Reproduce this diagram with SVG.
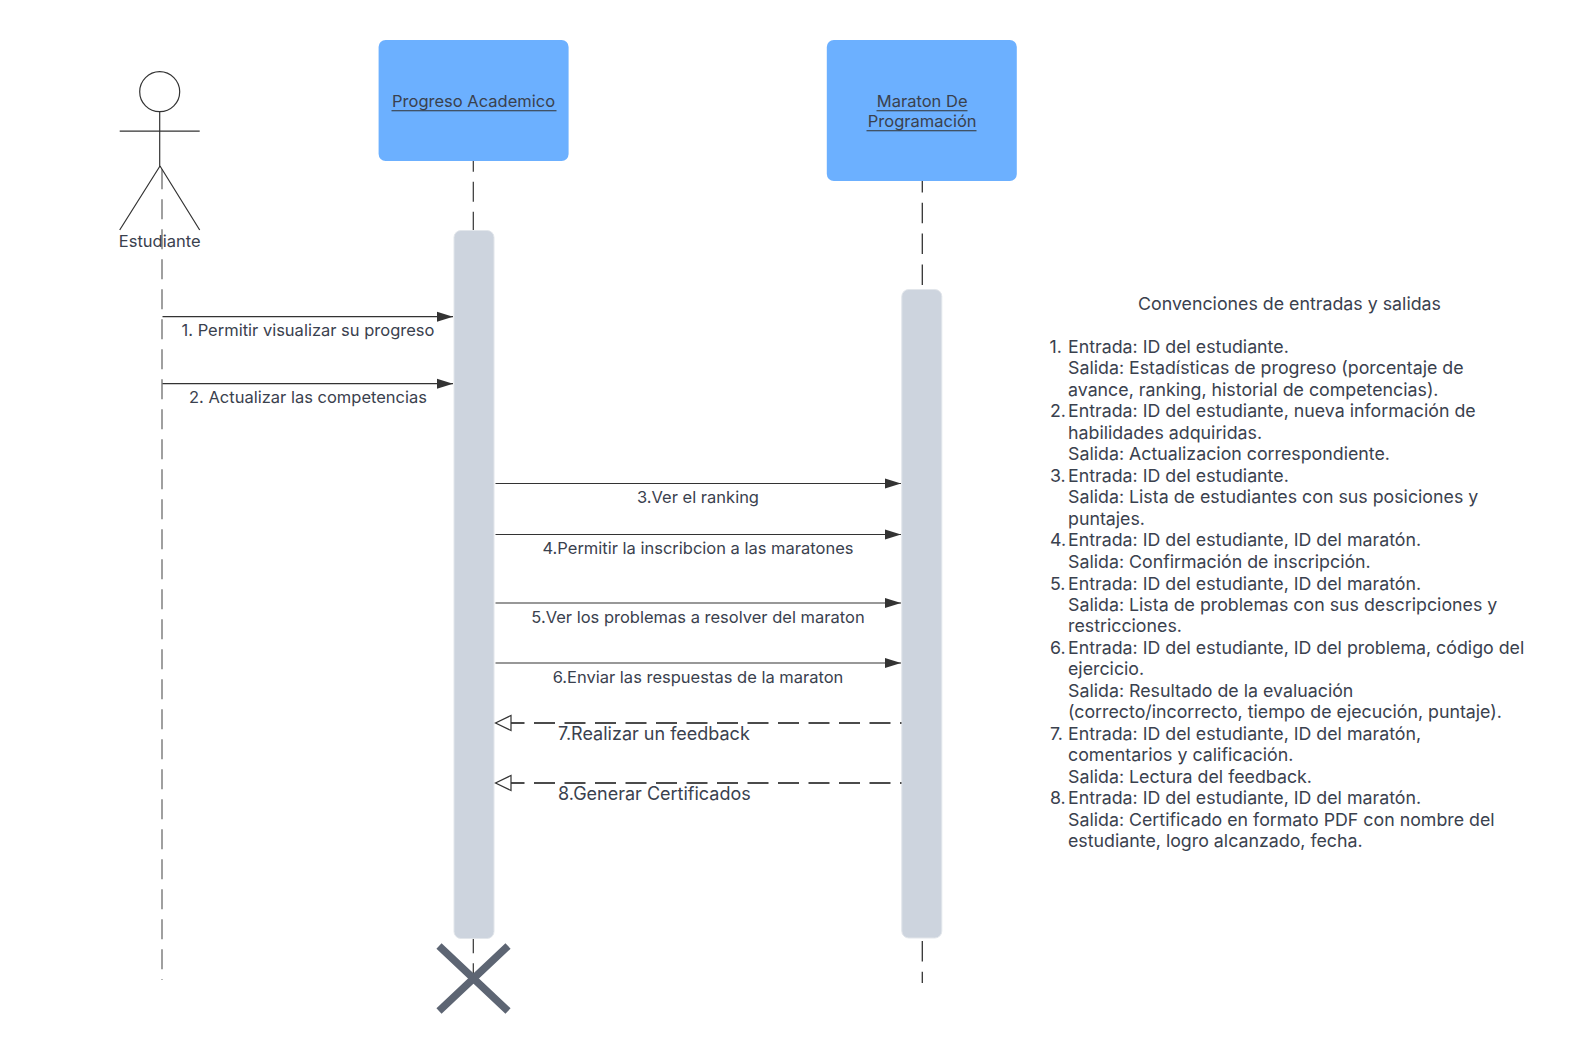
<svg xmlns="http://www.w3.org/2000/svg" width="1570" height="1059" viewBox="0 0 1570 1059">
<style>
text{font-family:Inter,"Noto Sans","Liberation Sans",sans-serif;font-size:16.5px;fill:#3a414e}
.m{text-anchor:middle}
.c text{font-size:17.8px}
.life{stroke:#333;stroke-width:1.2;fill:none;stroke-dasharray:20 10}
.life2{stroke:#333;stroke-width:1.3;fill:none;stroke-dasharray:20.500 10.300}
.msg{stroke:#333;stroke-width:1.2;fill:none}
.ret{stroke:#111;stroke-width:1.3;fill:none;stroke-dasharray:21 9.500;stroke-dashoffset:19.500}
.box{fill:#6cb0ff}
.act{fill:#cdd4de;stroke:#e2e6eb;stroke-width:1}
.ul{stroke:#333;stroke-width:1.1}
.stick{stroke:#333;stroke-width:1.2;fill:none}
</style>
<defs>
<marker id="solid" markerUnits="userSpaceOnUse" markerWidth="16" markerHeight="12" refX="16" refY="6" orient="auto"><path d="M0 1L16 6L0 11Z" fill="#333"/></marker>
<marker id="open" markerUnits="userSpaceOnUse" markerWidth="18" markerHeight="18" refX="16.5" refY="9" orient="auto"><path d="M1 1.5L16.5 9L1 16.5Z" fill="#fff" stroke="#333" stroke-width="1.2"/></marker>
</defs>
<g id="lifelines">
<path class="life" style="stroke:#808080;stroke-width:1.5" d="M162 169.300V980"/>
<path class="life" d="M473.300 151.700V230"/>
<path class="life" d="M473.300 933.300V985"/>
<path class="life2" d="M922.300 172V285"/>
<path class="life2" d="M922.300 941V983"/>
</g>
<g id="estudiante">
<circle class="stick" cx="159.700" cy="91.700" r="20"/>
<path class="stick" d="M159.700 111.700V166M119.700 131.200H199.700M160 166L119.700 230M160 166L199.700 230"/>
<text class="m" x="159.700" y="246.700">Estudiante</text>
</g>
<g id="progreso">
<rect class="box" x="378.600" y="40" width="190" height="121" rx="7"/>
<text class="m" x="473.600" y="106.500">Progreso Academico</text>
<path class="ul" d="M391.500 110.700H556.500"/>
</g>
<g id="maraton">
<rect class="box" x="826.800" y="40" width="190" height="141" rx="7"/>
<text class="m" x="922.200" y="106.500">Maraton De</text>
<text class="m" x="922.200" y="126.500">Programación</text>
<path class="ul" d="M876.500 110.700H967.500M866.500 130.700H976.500"/>
</g>
<g id="activacion-progreso"><rect class="act" x="454" y="230.500" width="40" height="708" rx="7"/></g>
<g id="activacion-maraton"><rect class="act" x="901.800" y="289.500" width="40" height="648.500" rx="7"/></g>
<g id="fin"><path d="M439 946L508 1011M508 946L439 1011" stroke="#5d6573" stroke-width="7.500" fill="none"/></g>
<g id="connectors">
<path class="msg" marker-end="url(#solid)" d="M162.500 316.700H453"/>
<path class="msg" marker-end="url(#solid)" d="M162.500 383.700H453"/>
<path class="msg" marker-end="url(#solid)" d="M495.500 483.500H901"/>
<path class="msg" marker-end="url(#solid)" d="M495.500 534.500H901"/>
<path class="msg" marker-end="url(#solid)" d="M495.500 603H901"/>
<path class="msg" marker-end="url(#solid)" d="M495.500 663H901"/>
<path class="ret" marker-end="url(#open)" d="M901.500 723H495.500"/>
<path class="ret" marker-end="url(#open)" d="M901.500 783H495.500"/>
</g>
<g id="labels">
<text class="m" x="308" y="335.500">1. Permitir visualizar su progreso</text>
<text class="m" x="308" y="402.500">2. Actualizar las competencias</text>
<text class="m" x="698" y="502.500">3.Ver el ranking</text>
<text class="m" x="698" y="553.500">4.Permitir la inscribcion a las maratones</text>
<text class="m" x="698" y="622.500">5.Ver los problemas a resolver del maraton</text>
<text class="m" x="698" y="682.800">6.Enviar las respuestas de la maraton</text>
<text x="558" y="739.800" style="font-size:18px">7.Realizar un feedback</text>
<text x="558" y="799.800" style="font-size:18px">8.Generar Certificados</text>
</g>
<g id="convenciones" class="c">
<text class="m" x="1289.500" y="309.700">Convenciones de entradas y salidas</text>
<text x="1049.500" y="352.700">1.</text><text x="1068" y="352.700">Entrada: ID del estudiante.</text>
<text x="1068" y="374.200">Salida: Estadísticas de progreso (porcentaje de</text>
<text x="1068" y="395.700">avance, ranking, historial de competencias).</text>
<text x="1050" y="417.200">2.</text><text x="1068" y="417.200">Entrada: ID del estudiante, nueva información de</text>
<text x="1068" y="438.700">habilidades adquiridas.</text>
<text x="1068" y="460.200">Salida: Actualizacion correspondiente.</text>
<text x="1050" y="481.700">3.</text><text x="1068" y="481.700">Entrada: ID del estudiante.</text>
<text x="1068" y="503.200">Salida: Lista de estudiantes con sus posiciones y</text>
<text x="1068" y="524.700">puntajes.</text>
<text x="1050" y="546.200">4.</text><text x="1068" y="546.200">Entrada: ID del estudiante, ID del maratón.</text>
<text x="1068" y="567.700">Salida: Confirmación de inscripción.</text>
<text x="1050" y="589.500">5.</text><text x="1068" y="589.500">Entrada: ID del estudiante, ID del maratón.</text>
<text x="1068" y="610.700">Salida: Lista de problemas con sus descripciones y</text>
<text x="1068" y="632.200">restricciones.</text>
<text x="1050" y="653.700">6.</text><text x="1068" y="653.700">Entrada: ID del estudiante, ID del problema, código del</text>
<text x="1068" y="675.200">ejercicio.</text>
<text x="1068" y="696.700">Salida: Resultado de la evaluación</text>
<text x="1068" y="718.200">(correcto/incorrecto, tiempo de ejecución, puntaje).</text>
<text x="1050" y="739.700">7.</text><text x="1068" y="739.700">Entrada: ID del estudiante, ID del maratón,</text>
<text x="1068" y="761.200">comentarios y calificación.</text>
<text x="1068" y="782.700">Salida: Lectura del feedback.</text>
<text x="1050" y="804.200">8.</text><text x="1068" y="804.200">Entrada: ID del estudiante, ID del maratón.</text>
<text x="1068" y="825.700">Salida: Certificado en formato PDF con nombre del</text>
<text x="1068" y="847.200">estudiante, logro alcanzado, fecha.</text>
</g>
</svg>
